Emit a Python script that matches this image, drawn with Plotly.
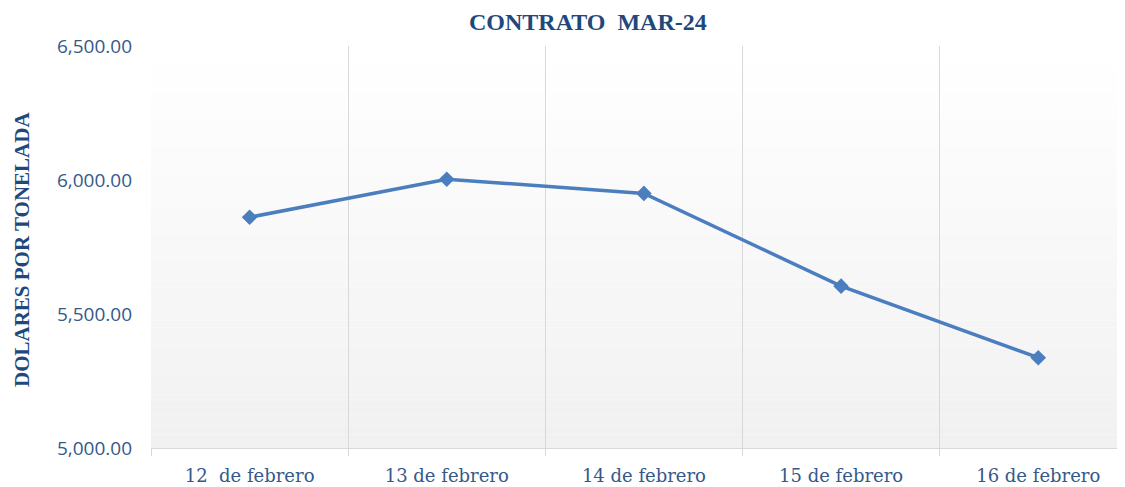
import plotly.graph_objects as go

categories = ["12\u00a0 de febrero", "13 de febrero", "14 de febrero", "15 de febrero", "16 de febrero"]
prices = [5861, 6003, 5950, 5604, 5337]
y_ticks = [5000, 5500, 6000, 6500]
y_tick_labels = ["5,000.00", "5,500.00", "6,000.00", "6,500.00"]

title_color = "#1F497D"
tick_color = "#34598A"
grid_color = "#D9D9D9"
line_color = "#4A7EBF"

# the page body adds an 8px offset, so the figure is drawn 8px smaller and shifted
OFF = 8
W, H = 1125 - OFF, 487 - OFF
L, R, T, B = 151 - OFF, 0, 46 - OFF, 39
pw, ph = W - L - R, H - T - B

fig = go.Figure()
fig.add_trace(go.Scatter(
    x=categories, y=prices, mode="lines+markers",
    line=dict(color=line_color, width=3.5),
    marker=dict(symbol="diamond", size=12, color=line_color),
    hoverinfo="x+y", showlegend=False,
))

# vertical gradient background in plot area
n = 60
shapes = []
for i in range(n):
    t = i / (n - 1)
    c = int(round(255 - (255 - 241) * t))
    shapes.append(dict(
        type="rect", xref="x domain", yref="y domain",
        x0=0, x1=1, y0=1 - (i + 1) / n, y1=1 - i / n,
        fillcolor=f"rgb({c},{c},{c})", line=dict(width=0), layer="below",
    ))

fig.update_layout(
    width=W, height=H,
    margin=dict(l=L, r=R, t=T, b=B),
    paper_bgcolor="white", plot_bgcolor="rgba(0,0,0,0)",
    shapes=shapes,
    annotations=[
        dict(text="<b>CONTRATO  MAR-24</b>", xref="paper", yref="paper",
             x=(588 - OFF - L) / pw, y=1 + (T - (22 - OFF)) / ph,
             xanchor="center", yanchor="middle", showarrow=False,
             font=dict(family="Liberation Serif", size=24, color=title_color)),
        dict(text="<b>DOLARES POR TONELADA</b>", xref="paper", yref="paper",
             x=(22 - OFF - L) / pw, y=(H - B - (250 - OFF)) / ph,
             xanchor="center", yanchor="middle", showarrow=False, textangle=-90,
             font=dict(family="Liberation Serif", size=21, color=title_color)),
    ],
    xaxis=dict(
        type="category", range=[-0.5, 4.44], automargin=False,
        tickson="boundaries", showgrid=True, gridcolor=grid_color, gridwidth=1,
        showline=True, linecolor=grid_color, linewidth=1,
        ticks="outside", ticklen=7, tickcolor=grid_color,
        tickfont=dict(family="DejaVu Serif", size=18, color=tick_color),
        ticklabelstandoff=11,
    ),
    yaxis=dict(
        range=[5000, 6500], tickvals=y_ticks, ticktext=y_tick_labels, automargin=False,
        showgrid=False, zeroline=False, showline=False, ticks="",
        tickfont=dict(family="Open Sans", size=19, color=tick_color),
        ticklabelstandoff=18,
    ),
)

fig.write_html("out.html")
